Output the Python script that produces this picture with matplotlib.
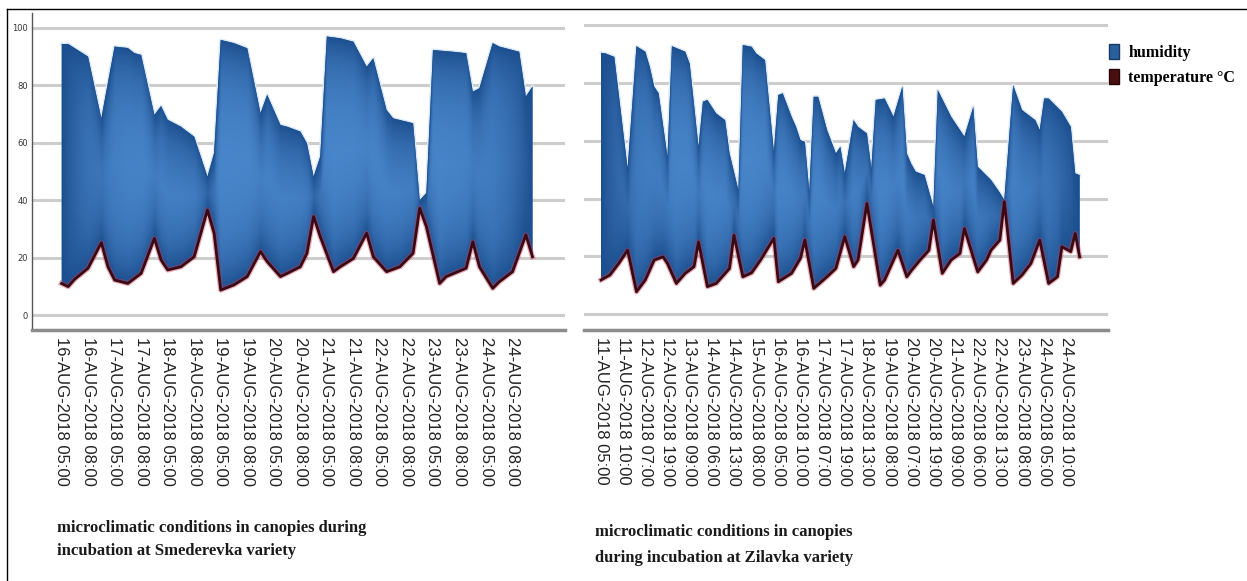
import numpy as np
import matplotlib.pyplot as plt
from matplotlib.patches import Patch
from matplotlib.lines import Line2D

# Smederevka variety (left panel) - category index / value
smed_hum_x = [0, 1, 4, 6, 8, 10, 11, 12, 14, 15, 16, 18, 20, 22, 23, 24, 26, 28, 30, 31,
              33, 34, 36, 37, 38, 39, 40, 42, 44, 46, 47, 49, 50, 53, 54, 55, 56, 59, 61,
              62, 63, 65, 66, 69, 70, 71]
smed_hum = [94.4, 94.4, 90.0, 68.5, 93.5, 93.0, 91.2, 90.6, 69.7, 72.8, 68.0, 65.6, 62.1,
            48.2, 56.4, 95.8, 94.7, 92.9, 70.3, 76.7, 66.2, 65.6, 63.9, 59.8, 48.2, 55.2,
            97.0, 96.4, 95.2, 86.5, 89.4, 71.4, 68.5, 66.8, 40.0, 42.5, 92.3, 91.7, 91.2,
            77.8, 79.0, 94.7, 93.5, 91.7, 76.1, 79.6]
smed_temp_x = [0, 1, 2, 4, 6, 7, 8, 10, 12, 14, 15, 16, 18, 20, 22, 23, 24, 26, 28, 30, 31,
               33, 34, 36, 37, 38, 39, 41, 42, 44, 46, 47, 49, 51, 53, 54, 55, 57, 58, 61,
               62, 63, 65, 66, 68, 70, 71]
smed_temp = [11.0, 9.9, 12.5, 16.3, 25.2, 16.8, 12.2, 11.0, 14.5, 26.7, 19.2, 15.7, 16.8,
             20.3, 36.6, 28.5, 8.7, 10.5, 13.4, 22.1, 18.6, 13.4, 14.5, 16.8, 21.5, 34.3,
             27.3, 15.1, 16.8, 19.7, 28.5, 20.3, 15.1, 16.8, 21.5, 37.2, 30.8, 11.0, 13.4,
             16.3, 25.5, 16.8, 9.3, 11.6, 15.1, 27.9, 20.3]
smed_ticks = [0, 4, 8, 12, 16, 20, 24, 28, 32, 36, 40, 44, 48, 52, 56, 60, 64, 68]
smed_labels = ["16-AUG-2018 05:00", "16-AUG-2018 08:00", "17-AUG-2018 05:00",
               "17-AUG-2018 08:00", "18-AUG-2018 05:00", "18-AUG-2018 08:00",
               "19-AUG-2018 05:00", "19-AUG-2018 08:00", "20-AUG-2018 05:00",
               "20-AUG-2018 08:00", "21-AUG-2018 05:00", "21-AUG-2018 08:00",
               "22-AUG-2018 05:00", "22-AUG-2018 08:00", "23-AUG-2018 05:00",
               "23-AUG-2018 08:00", "24-AUG-2018 05:00", "24-AUG-2018 08:00"]

# Zilavka variety (right panel)
zil_hum_x = [0, 1, 3, 6, 8, 10, 11, 12, 13, 15, 16, 19, 20, 22, 23, 24, 26, 28, 29, 31, 32,
             34, 35, 37, 39, 40, 41, 43, 44, 45, 46, 47, 48, 49, 51, 53, 54, 55, 57, 58,
             60, 61, 62, 64, 66, 68, 69, 70, 71, 73, 75, 76, 79, 82, 84, 85, 88, 90, 91,
             93, 95, 98, 99, 100, 101, 104, 106, 107, 108]
zil_hum = [90.4, 90.2, 89.0, 50.4, 92.7, 90.8, 85.6, 78.7, 76.4, 54.4, 92.7, 90.8, 86.7,
           57.9, 73.5, 74.1, 69.4, 67.1, 55.6, 42.9, 93.1, 92.5, 90.2, 87.9, 56.2, 75.8,
           76.4, 68.3, 64.8, 60.2, 59.6, 42.3, 75.2, 75.2, 63.7, 55.6, 57.9, 48.7, 67.1,
           64.8, 62.5, 50.4, 74.1, 74.6, 68.3, 78.7, 55.6, 52.0, 49.3, 48.1, 37.1, 77.5,
           68.3, 61.4, 71.7, 51.0, 46.4, 42.0, 39.5, 79.2, 70.6, 67.1, 63.7, 74.6, 74.6,
           70.0, 64.8, 48.7, 48.1]
zil_temp_x = [0, 2, 4, 6, 8, 10, 12, 14, 15, 17, 19, 21, 22, 24, 26, 29, 30, 32, 34, 36,
              39, 40, 43, 45, 46, 48, 51, 53, 55, 57, 58, 60, 63, 64, 67, 69, 70, 72, 74,
              75, 77, 79, 81, 82, 85, 87, 88, 90, 91, 93, 95, 97, 99, 101, 103, 104, 106,
              107, 108]
zil_temp = [11.8, 13.5, 17.5, 22.1, 7.7, 11.8, 18.7, 19.8, 17.5, 10.6, 14.1, 16.4, 25.0,
            9.5, 10.6, 15.8, 27.3, 12.9, 14.3, 18.7, 26.2, 11.2, 14.1, 19.3, 25.6, 8.9,
            12.9, 15.8, 26.8, 16.4, 18.7, 38.3, 10.0, 11.8, 22.1, 12.9, 15.0, 18.7, 22.1,
            32.5, 14.1, 18.7, 21.0, 29.6, 14.6, 18.7, 22.1, 25.6, 38.9, 10.6, 13.5, 17.5,
            25.6, 10.6, 12.9, 23.3, 21.6, 27.9, 19.8]
zil_ticks = [0, 5, 10, 15, 20, 25, 30, 35, 40, 45, 50, 55, 60, 65, 70, 75, 80, 85, 90, 95,
             100, 105]
zil_labels = ["11-AUG-2018 05:00", "11-AUG-2018 10:00", "12-AUG-2018 07:00",
              "12-AUG-2018 19:00", "13-AUG-2018 09:00", "14-AUG-2018 06:00",
              "14-AUG-2018 13:00", "15-AUG-2018 08:00", "16-AUG-2018 05:00",
              "16-AUG-2018 10:00", "17-AUG-2018 07:00", "17-AUG-2018 19:00",
              "18-AUG-2018 13:00", "19-AUG-2018 08:00", "20-AUG-2018 07:00",
              "20-AUG-2018 19:00", "21-AUG-2018 09:00", "22-AUG-2018 06:00",
              "22-AUG-2018 13:00", "23-AUG-2018 08:00", "24-AUG-2018 05:00",
              "24-AUG-2018 10:00"]

yticks = [0, 20, 40, 60, 80, 100]

W, H = 1247, 581
DARK = np.array([0.11, 0.31, 0.56])
BRIGHT = np.array([0.29, 0.53, 0.80])


def shaded_area(ax, hx, hv, tx, tv):
    hx, hv, tx, tv = map(np.asarray, (hx, hv, tx, tv))
    px = np.concatenate([hx, tx[::-1]])
    py = np.concatenate([hv, tv[::-1]])
    ax.plot(hx, hv, color='#dce9f6', lw=2.2, zorder=1.9)
    poly = ax.fill(px, py, facecolor='#2b62a3', edgecolor='none', zorder=2)[0]

    # soft "pillow" gradient, lighter away from the edges
    gx = np.linspace(hx[0], hx[-1], 900)
    gy = np.linspace(0, 100, 400)
    top = np.interp(gx, hx, hv)
    bot = np.interp(gx, tx, tv)
    X, Y = np.meshgrid(gx, gy)
    dv = np.clip(np.minimum(Y - bot[None, :], top[None, :] - Y), 0, None)
    dh = np.minimum(X - gx[0], gx[-1] - X)
    lv = 1 - np.exp(-dv / 13.0)
    lh = 1 - np.exp(-dh / ((gx[-1] - gx[0]) * 0.05))
    img = DARK + (BRIGHT - DARK) * (lv * lh)[..., None]
    im = ax.imshow(img, extent=(gx[0], gx[-1], 0, 100), origin='lower',
                   aspect='auto', zorder=2.1, interpolation='bilinear')
    im.set_clip_path(poly)

    ax.plot(tx, tv, color='#d23a55', lw=3.8, alpha=0.4, zorder=3)
    ax.plot(tx, tv, color='#3a0a14', lw=2.0, zorder=3.1)


def style_axis(ax, ticks, labels, xlim, ylim, show_y):
    ax.set_xlim(*xlim)
    ax.set_ylim(*ylim)
    ax.set_yticks(yticks)
    ax.yaxis.grid(True, color='#cdcdcd', lw=2.2)
    ax.set_axisbelow(True)
    ax.set_xticks(ticks)
    ax.set_xticklabels(labels, rotation=270, fontsize=12,
                       family='Liberation Sans', color='#222222')
    ax.tick_params(axis='x', length=0, pad=5)
    ax.tick_params(axis='y', length=0, pad=3, labelsize=6, labelcolor='#333333')
    for s in ['top', 'right']:
        ax.spines[s].set_visible(False)
    ax.spines['bottom'].set_color('#8c8c8c')
    ax.spines['bottom'].set_linewidth(2.5)
    if show_y:
        ax.spines['left'].set_color('#555555')
        ax.spines['left'].set_linewidth(1.0)
    else:
        ax.spines['left'].set_visible(False)
        ax.set_yticklabels([])


fig = plt.figure(figsize=(W / 100, H / 100), dpi=100)

ax1 = fig.add_axes([32 / W, 1 - 330 / H, 533 / W, 317 / H])
shaded_area(ax1, smed_hum_x, smed_hum, smed_temp_x, smed_temp)
style_axis(ax1, smed_ticks, smed_labels, (-4.45, 75.9), (-5.2, 105.2), True)

ax2 = fig.add_axes([584 / W, 1 - 330 / H, 524 / W, 317 / H])
shaded_area(ax2, zil_hum_x, zil_hum, zil_temp_x, zil_temp)
style_axis(ax2, zil_ticks, zil_labels, (-3.84, 114.4), (-5.5, 104.2), False)

cap = dict(family='Liberation Serif', weight='bold', fontsize=12, color='#1a1a1a',
           va='center', ha='left')
fig.text(57 / W, 1 - 528 / H, "microclimatic conditions in canopies during", **cap)
fig.text(57 / W, 1 - 551 / H, "incubation at Smederevka variety", **cap)
fig.text(595 / W, 1 - 532 / H, "microclimatic conditions in canopies", **cap)
fig.text(595 / W, 1 - 558 / H, "during incubation at Zilavka variety", **cap)

handles = [Patch(facecolor='#2a5f9e', edgecolor='#1a3a66', label='humidity'),
           Patch(facecolor='#4a0f10', edgecolor='#2a0508', label='temperature °C')]
fig.legend(handles=handles, loc='upper left', bbox_to_anchor=(1109 / W, 1 - 44 / H),
           frameon=False, borderpad=0, borderaxespad=0, handlelength=0.65,
           handleheight=1.1, handletextpad=0.55, labelspacing=0.5,
           prop=dict(family='Liberation Serif', weight='bold', size=11.5))

# outer frame (top and left edges)
fig.add_artist(Line2D([7 / W, 1.0], [1 - 9 / H, 1 - 9 / H], transform=fig.transFigure,
                      color='black', lw=1.0))
fig.add_artist(Line2D([7 / W, 7 / W], [0, 1 - 9 / H], transform=fig.transFigure,
                      color='black', lw=1.0))

fig.savefig('out.png', dpi=100)
